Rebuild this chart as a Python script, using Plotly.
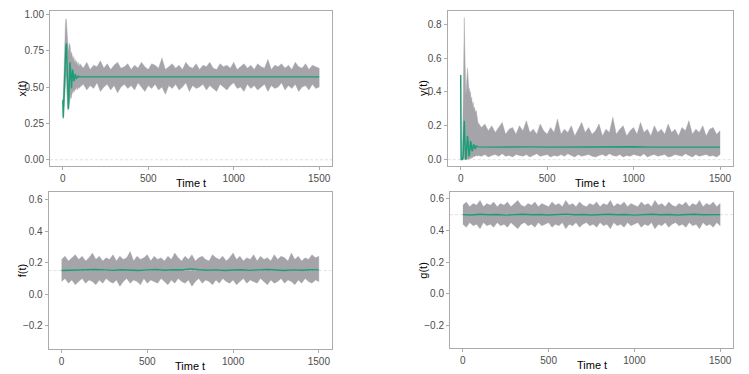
import plotly.graph_objects as go
from plotly.subplots import make_subplots

# --- DATA ---
# sample times for the transient phase (x and y panels)
T_EARLY = [0, 1, 3, 6, 9, 12, 15, 18, 21, 24, 27, 30, 33, 36, 39, 42, 45, 48,
           51, 54, 57, 60, 64, 68, 72, 76, 80, 85, 90, 95]
# sample times after the transient
T_LATE = [100, 120, 140, 160, 180, 200, 220, 240, 260, 280, 300, 320, 340, 360,
          380, 400, 420, 440, 460, 480, 500, 520, 540, 560, 580, 600, 620, 640,
          660, 680, 700, 720, 740, 760, 780, 800, 820, 840, 860, 880, 900, 920,
          940, 960, 980, 1000, 1020, 1040, 1060, 1080, 1100, 1120, 1140, 1160,
          1180, 1200, 1220, 1240, 1260, 1280, 1300, 1320, 1340, 1360, 1380,
          1400, 1420, 1440, 1460, 1480, 1500]
T_HEAD = [0, 20, 40, 60, 80]
T_MEAN_LATE = [100, 200, 300, 400, 500, 600, 700, 800, 900, 1000, 1100, 1200,
               1300, 1400, 1500]
T_FG_MEAN = [0, 50, 100, 150, 200, 250, 300, 350, 400, 450, 500, 550, 600, 650,
             700, 750, 800, 850, 900, 950, 1000, 1050, 1100, 1150, 1200, 1250,
             1300, 1350, 1400, 1450, 1500]

# x(t)
X_MEAN_EARLY = [0.41, 0.30, 0.29, 0.40, 0.52, 0.63, 0.72, 0.78, 0.80, 0.66,
                0.48, 0.37, 0.35, 0.45, 0.60, 0.67, 0.63, 0.52, 0.49, 0.56,
                0.62, 0.60, 0.54, 0.55, 0.59, 0.58, 0.56, 0.565, 0.575, 0.57]
X_MEAN_LATE = [0.570, 0.571, 0.569, 0.570, 0.572, 0.569, 0.570, 0.571, 0.570,
               0.569, 0.571, 0.570, 0.569, 0.571, 0.570]
X_UP_EARLY = [0.42, 0.40, 0.45, 0.62, 0.75, 0.86, 0.93, 0.97, 0.96, 0.90,
              0.85, 0.80, 0.74, 0.78, 0.80, 0.79, 0.75, 0.72, 0.74, 0.71,
              0.72, 0.69, 0.71, 0.67, 0.69, 0.66, 0.68, 0.65, 0.67, 0.64]
X_LO_EARLY = [0.40, 0.29, 0.28, 0.30, 0.35, 0.42, 0.50, 0.56, 0.58, 0.45,
              0.37, 0.34, 0.35, 0.38, 0.42, 0.41, 0.44, 0.42, 0.45, 0.44,
              0.47, 0.46, 0.48, 0.47, 0.49, 0.48, 0.50, 0.48, 0.50, 0.49]
X_UP_LATE = [0.66, 0.63, 0.67, 0.62, 0.65, 0.64, 0.68, 0.63, 0.66, 0.62,
             0.65, 0.67, 0.63, 0.64, 0.66, 0.62, 0.65, 0.63, 0.67, 0.64,
             0.62, 0.66, 0.65, 0.63, 0.70, 0.62, 0.64, 0.66, 0.63, 0.65,
             0.62, 0.67, 0.64, 0.63, 0.66, 0.62, 0.65, 0.64, 0.67, 0.63,
             0.62, 0.66, 0.64, 0.65, 0.63, 0.67, 0.62, 0.64, 0.66, 0.63,
             0.65, 0.62, 0.66, 0.64, 0.63, 0.69, 0.62, 0.65, 0.64, 0.66,
             0.63, 0.65, 0.62, 0.67, 0.64, 0.63, 0.66, 0.62, 0.65, 0.64,
             0.63]
X_LO_LATE = [0.50, 0.52, 0.48, 0.51, 0.49, 0.53, 0.47, 0.50, 0.52, 0.48,
             0.51, 0.46, 0.50, 0.52, 0.49, 0.51, 0.48, 0.53, 0.50, 0.47,
             0.51, 0.49, 0.52, 0.48, 0.50, 0.45, 0.51, 0.49, 0.52, 0.48,
             0.50, 0.53, 0.47, 0.51, 0.49, 0.50, 0.52, 0.48, 0.51, 0.49,
             0.47, 0.52, 0.50, 0.48, 0.51, 0.53, 0.49, 0.50, 0.47, 0.52,
             0.49, 0.51, 0.48, 0.50, 0.52, 0.47, 0.51, 0.49, 0.50, 0.53,
             0.48, 0.51, 0.49, 0.52, 0.47, 0.50, 0.51, 0.48, 0.52, 0.49,
             0.50]

# y(t)
Y_MEAN_EARLY = [0.50, 0.0, 0.0, 0.0, 0.0, 0.005, 0.03, 0.15, 0.23, 0.12,
                0.02, 0.0, 0.03, 0.09, 0.14, 0.12, 0.06, 0.02, 0.03, 0.07,
                0.11, 0.10, 0.06, 0.05, 0.08, 0.09, 0.07, 0.065, 0.08, 0.075]
Y_MEAN_LATE = [0.075, 0.074, 0.076, 0.075, 0.074, 0.075, 0.076, 0.074, 0.075,
               0.076, 0.074, 0.075, 0.075, 0.076, 0.074]
Y_UP_EARLY = [0.50, 0.02, 0.02, 0.02, 0.05, 0.15, 0.45, 0.78, 0.84, 0.65,
              0.45, 0.38, 0.42, 0.50, 0.54, 0.50, 0.44, 0.40, 0.42, 0.38,
              0.40, 0.35, 0.37, 0.32, 0.34, 0.30, 0.31, 0.28, 0.29, 0.26]
Y_LO_EARLY = [0.50, 0.0, 0.0, 0.0, 0.0, 0.0, 0.0, 0.0, 0.0, 0.0,
              0.0, 0.0, 0.0, 0.0, 0.005, 0.0, 0.0, 0.0, 0.005, 0.01,
              0.01, 0.005, 0.015, 0.01, 0.02, 0.015, 0.02, 0.02, 0.025, 0.02]
Y_UP_LATE = [0.22, 0.19, 0.21, 0.17, 0.20, 0.16, 0.19, 0.22, 0.15, 0.18,
             0.19, 0.15, 0.20, 0.17, 0.23, 0.16, 0.18, 0.15, 0.21, 0.17,
             0.15, 0.19, 0.16, 0.24, 0.15, 0.18, 0.16, 0.20, 0.14, 0.18,
             0.22, 0.16, 0.19, 0.15, 0.17, 0.21, 0.14, 0.18, 0.16, 0.25,
             0.15, 0.18, 0.20, 0.14, 0.17, 0.19, 0.15, 0.22, 0.16, 0.18,
             0.14, 0.20, 0.16, 0.18, 0.15, 0.21, 0.16, 0.18, 0.14, 0.19,
             0.17, 0.23, 0.15, 0.18, 0.16, 0.20, 0.14, 0.18, 0.19, 0.15,
             0.17]
Y_LO_LATE = [0.025, 0.020, 0.030, 0.015, 0.025, 0.030, 0.020, 0.035, 0.020, 0.025,
             0.015, 0.030, 0.025, 0.020, 0.030, 0.015, 0.025, 0.035, 0.020, 0.025,
             0.030, 0.015, 0.025, 0.020, 0.030, 0.020, 0.035, 0.025, 0.015, 0.030,
             0.020, 0.025, 0.030, 0.020, 0.015, 0.025, 0.030, 0.020, 0.035, 0.025,
             0.020, 0.030, 0.015, 0.025, 0.020, 0.030, 0.025, 0.020, 0.035, 0.015,
             0.025, 0.030, 0.020, 0.025, 0.030, 0.015, 0.020, 0.030, 0.025, 0.020,
             0.035, 0.025, 0.015, 0.030, 0.020, 0.025, 0.030, 0.020, 0.025, 0.015,
             0.030]

# f(t)  (band on T_HEAD + T_LATE)
F_UP = [0.22, 0.24, 0.21, 0.23, 0.25, 0.22, 0.24, 0.21, 0.23, 0.26,
        0.22, 0.24, 0.21, 0.23, 0.22, 0.25, 0.21, 0.24, 0.22, 0.23,
        0.27, 0.21, 0.24, 0.22, 0.23, 0.25, 0.21, 0.24, 0.22, 0.23,
        0.21, 0.24, 0.22, 0.26, 0.23, 0.21, 0.24, 0.22, 0.25, 0.21,
        0.23, 0.24, 0.22, 0.21, 0.25, 0.23, 0.22, 0.24, 0.21, 0.23,
        0.26, 0.22, 0.24, 0.21, 0.23, 0.22, 0.25, 0.21, 0.24, 0.22,
        0.23, 0.21, 0.25, 0.22, 0.24, 0.23, 0.21, 0.26, 0.22, 0.24,
        0.21, 0.23, 0.22, 0.25, 0.23, 0.24]
F_LO = [0.08, 0.10, 0.07, 0.09, 0.06, 0.08, 0.10, 0.07, 0.09, 0.08,
        0.06, 0.09, 0.07, 0.10, 0.08, 0.07, 0.09, 0.05, 0.08, 0.10,
        0.07, 0.09, 0.08, 0.06, 0.10, 0.07, 0.09, 0.08, 0.07, 0.10,
        0.08, 0.06, 0.09, 0.07, 0.10, 0.08, 0.07, 0.09, 0.05, 0.08,
        0.10, 0.07, 0.09, 0.08, 0.06, 0.09, 0.07, 0.10, 0.08, 0.07,
        0.09, 0.06, 0.08, 0.10, 0.07, 0.09, 0.08, 0.07, 0.10, 0.08,
        0.06, 0.09, 0.07, 0.08, 0.10, 0.07, 0.09, 0.08, 0.06, 0.09,
        0.07, 0.10, 0.08, 0.07, 0.09, 0.08]
F_MEAN = [0.150, 0.152, 0.155, 0.153, 0.156, 0.154, 0.151, 0.155, 0.153, 0.150,
          0.154, 0.156, 0.152, 0.155, 0.153, 0.160, 0.155, 0.152, 0.154, 0.150,
          0.153, 0.155, 0.151, 0.154, 0.156, 0.153, 0.150, 0.154, 0.152, 0.155,
          0.154]

# g(t)
G_UP = [0.56, 0.58, 0.55, 0.57, 0.56, 0.59, 0.55, 0.57, 0.56, 0.58,
        0.55, 0.57, 0.56, 0.58, 0.55, 0.57, 0.59, 0.56, 0.55, 0.57,
        0.56, 0.58, 0.55, 0.57, 0.56, 0.55, 0.58, 0.56, 0.57, 0.55,
        0.59, 0.56, 0.57, 0.55, 0.58, 0.56, 0.55, 0.57, 0.56, 0.58,
        0.55, 0.57, 0.56, 0.59, 0.55, 0.57, 0.56, 0.58, 0.55, 0.57,
        0.56, 0.55, 0.58, 0.56, 0.57, 0.55, 0.59, 0.56, 0.57, 0.55,
        0.58, 0.56, 0.55, 0.57, 0.56, 0.58, 0.55, 0.57, 0.56, 0.59,
        0.55, 0.57, 0.56, 0.58, 0.55, 0.57]
G_LO = [0.44, 0.42, 0.45, 0.43, 0.44, 0.41, 0.45, 0.43, 0.44, 0.42,
        0.45, 0.43, 0.44, 0.42, 0.45, 0.43, 0.41, 0.44, 0.45, 0.43,
        0.44, 0.42, 0.45, 0.43, 0.44, 0.45, 0.42, 0.44, 0.43, 0.45,
        0.41, 0.44, 0.43, 0.45, 0.42, 0.44, 0.45, 0.43, 0.44, 0.42,
        0.45, 0.43, 0.44, 0.41, 0.45, 0.43, 0.44, 0.42, 0.45, 0.43,
        0.44, 0.45, 0.42, 0.44, 0.43, 0.45, 0.41, 0.44, 0.43, 0.45,
        0.42, 0.44, 0.45, 0.43, 0.44, 0.42, 0.45, 0.43, 0.44, 0.41,
        0.45, 0.43, 0.44, 0.42, 0.45, 0.43]
G_MEAN = [0.500, 0.498, 0.502, 0.499, 0.501, 0.497, 0.500, 0.502, 0.499, 0.501,
          0.498, 0.500, 0.503, 0.499, 0.501, 0.498, 0.500, 0.502, 0.499, 0.501,
          0.497, 0.500, 0.502, 0.499, 0.501, 0.498, 0.500, 0.502, 0.499, 0.501,
          0.500]

# reference (equilibrium) levels
HLINES = {"x": 0.0, "y": 0.0, "f": 0.15, "g": 0.5}

# --- STYLE ---
C_BAND = '#A4A4A9'
C_MEAN = '#1B9E77'
C_REF = '#CFCFCF'
C_FRAME = '#ABABAB'
FONT = "Liberation Sans"

panels = [
    # name, row, col, band t, band up, band lo, mean t, mean y, y range, ticks, fmt
    ("x", 1, 1, T_EARLY + T_LATE, X_UP_EARLY + X_UP_LATE, X_LO_EARLY + X_LO_LATE,
     T_EARLY + T_MEAN_LATE, X_MEAN_EARLY + X_MEAN_LATE,
     [-0.043, 1.023], [0, 0.25, 0.5, 0.75, 1.0], ".2f"),
    ("y", 1, 2, T_EARLY + T_LATE, Y_UP_EARLY + Y_UP_LATE, Y_LO_EARLY + Y_LO_LATE,
     T_EARLY + T_MEAN_LATE, Y_MEAN_EARLY + Y_MEAN_LATE,
     [-0.036, 0.880], [0, 0.2, 0.4, 0.6, 0.8], ".1f"),
    ("f", 2, 1, T_HEAD + T_LATE, F_UP, F_LO, T_FG_MEAN, F_MEAN,
     [-0.345, 0.645], [-0.2, 0, 0.2, 0.4, 0.6], ".1f"),
    ("g", 2, 2, T_HEAD + T_LATE, G_UP, G_LO, T_FG_MEAN, G_MEAN,
     [-0.345, 0.645], [-0.2, 0, 0.2, 0.4, 0.6], ".1f"),
]

# the page body adds an 8px margin, so the figure is shrunk by that much
OFF = 8
W, H = 749 - OFF, 374 - OFF
# panel frames in page pixels (left, right, top, bottom)
FRAMES = {
    "x": (50, 332, 11, 166),
    "y": (447.7, 733, 10.7, 165.7),
    "f": (48.7, 331.7, 192.3, 348.7),
    "g": (450, 733, 191.7, 348.3),
}
YTITLE_X = {"x": 22, "y": 422.7, "f": 21.7, "g": 422.7}


def px(x):
    return (x - OFF) / W


def py(y):
    return 1 - (y - OFF) / H


fig = make_subplots(rows=2, cols=2)

for name, row, col, bt, bu, bl, mt, my, yr, ticks, fmt in panels:
    # band as a closed polygon: upper edge forward, lower edge back
    fig.add_trace(go.Scatter(
        x=bt + bt[::-1], y=bu + bl[::-1], fill='toself', mode='lines',
        fillcolor=C_BAND, line=dict(color=C_BAND, width=0.4),
        hoverinfo='skip', showlegend=False
    ), row=row, col=col)
    fig.add_trace(go.Scatter(
        x=[-75, 1575], y=[HLINES[name], HLINES[name]], mode='lines',
        line=dict(color=C_REF, width=0.6, dash='3px,2px'),
        hoverinfo='skip', showlegend=False
    ), row=row, col=col)
    fig.add_trace(go.Scatter(
        x=mt, y=my, mode='lines', line=dict(color=C_MEAN, width=1.4),
        showlegend=False
    ), row=row, col=col)

    l, r, t, b = FRAMES[name]
    fig.update_xaxes(
        domain=[px(l), px(r)], range=[-75, 1575],
        tickvals=[0, 500, 1000, 1500], row=row, col=col
    )
    fig.update_yaxes(
        domain=[py(b), py(t)], range=yr,
        tickvals=ticks, tickformat=fmt, row=row, col=col
    )
    fig.add_annotation(
        text="Time t", x=px((l + r) / 2), y=py(b + 17),
        xref="paper", yref="paper", showarrow=False,
        xanchor="center", yanchor="middle",
        font=dict(family=FONT, size=11, color="black")
    )
    fig.add_annotation(
        text=f"{name}(t)", x=px(YTITLE_X[name]), y=py((t + b) / 2),
        xref="paper", yref="paper", showarrow=False, textangle=-90,
        xanchor="center", yanchor="middle",
        font=dict(family=FONT, size=11, color="black")
    )

axis_style = dict(
    showgrid=False, zeroline=False, showline=True, mirror=True, automargin=False,
    linecolor=C_FRAME, linewidth=1, ticks='outside', ticklen=3, tickcolor=C_FRAME,
    tickfont=dict(family=FONT, size=10, color='#4D4D4D')
)
fig.update_xaxes(**axis_style)
fig.update_yaxes(**axis_style)

fig.update_layout(
    width=W, height=H,
    margin=dict(l=0, r=0, t=0, b=0),
    paper_bgcolor='white', plot_bgcolor='white',
    showlegend=False
)

fig.write_html("out.html")
